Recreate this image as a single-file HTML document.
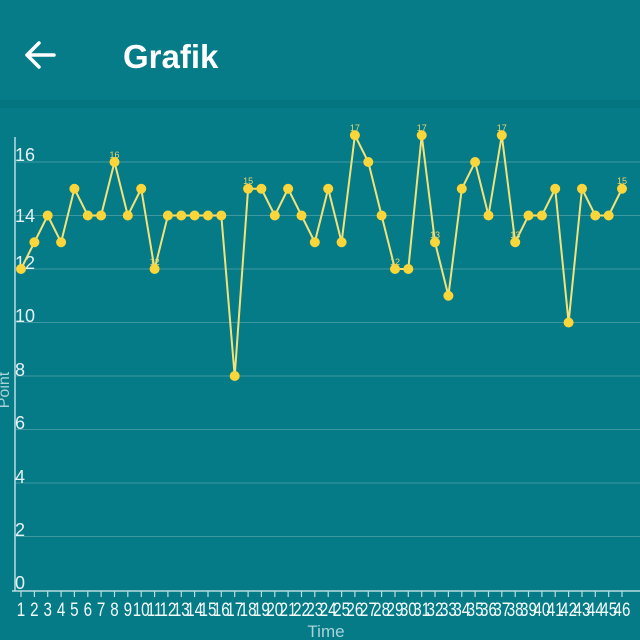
<!DOCTYPE html>
<html><head><style>
html,body{margin:0;padding:0;background:#047b87;width:640px;height:640px;overflow:hidden;font-family:"Liberation Sans",sans-serif}
</style></head><body>
<svg width="640" height="640" xmlns="http://www.w3.org/2000/svg">
<rect width="640" height="640" fill="#047b87"/>
<rect width="640" height="104" fill="#067c88"/>
<rect y="100" width="640" height="8" fill="#03717c" opacity="0.6"/>
<g stroke="#fff" stroke-width="3.5" fill="none" stroke-linecap="round" stroke-linejoin="round">
<path d="M27 55H54M27 55L39 43M27 55L39 67"/></g>
<text x="123" y="68" fill="#fff" font-size="33" font-weight="bold">Grafik</text>
<g stroke="#3e98a2" stroke-width="1">
<line x1="15" y1="162" x2="640" y2="162"/><line x1="15" y1="215.5" x2="640" y2="215.5"/>
<line x1="15" y1="269" x2="640" y2="269"/><line x1="15" y1="322.5" x2="640" y2="322.5"/>
<line x1="15" y1="376" x2="640" y2="376"/><line x1="15" y1="429.5" x2="640" y2="429.5"/>
<line x1="15" y1="483" x2="640" y2="483"/><line x1="15" y1="536.5" x2="640" y2="536.5"/>
</g>
<line x1="15" y1="137" x2="15" y2="591" stroke="#b8dde0" stroke-width="1.5"/>
<line x1="12" y1="591" x2="640" y2="591" stroke="#b8dde0" stroke-width="1.5"/>
<g stroke="#b8dde0" stroke-width="1.2">
<path d="M21 591v6M34.4 591v6M47.7 591v6M61.1 591v6M74.4 591v6M87.8 591v6M101.1 591v6M114.5 591v6M127.8 591v6M141.2 591v6M154.6 591v6M167.9 591v6M181.3 591v6M194.6 591v6M208 591v6M221.3 591v6M234.7 591v6M248.1 591v6M261.4 591v6M274.8 591v6M288.1 591v6M301.5 591v6M314.8 591v6M328.2 591v6M341.6 591v6M354.9 591v6M368.3 591v6M381.6 591v6M395 591v6M408.3 591v6M421.7 591v6M435 591v6M448.4 591v6M461.8 591v6M475.1 591v6M488.5 591v6M501.8 591v6M515.2 591v6M528.5 591v6M541.9 591v6M555.2 591v6M568.6 591v6M582 591v6M595.3 591v6M608.7 591v6M622 591v6"/>
</g>
<g fill="#e6f2f3" font-size="18">
<text x="15" y="161">16</text><text x="15" y="222">14</text><text x="15" y="269">12</text>
<text x="15" y="322">10</text><text x="15" y="376">8</text><text x="15" y="429">6</text>
<text x="15" y="483">4</text><text x="15" y="536">2</text><text x="15" y="589">0</text>
</g>
<text transform="translate(9,390) rotate(-90)" fill="#a9d3d7" font-size="16" text-anchor="middle">Point</text>
<text x="326" y="637" fill="#a9d3d7" font-size="17" text-anchor="middle">Time</text>
<g fill="#f4f9f9" font-size="19" text-anchor="middle" transform="scale(0.8,1)">
<text x="26.25" y="616">1</text><text x="43" y="616">2</text><text x="59.6" y="616">3</text><text x="76.4" y="616">4</text><text x="93" y="616">5</text><text x="109.75" y="616">6</text><text x="126.4" y="616">7</text><text x="143.1" y="616">8</text><text x="159.75" y="616">9</text><text x="176.5" y="616">10</text><text x="193.25" y="616">11</text><text x="209.9" y="616">12</text><text x="226.6" y="616">13</text><text x="243.25" y="616">14</text><text x="260" y="616">15</text><text x="276.6" y="616">16</text><text x="293.4" y="616">17</text><text x="310.1" y="616">18</text><text x="326.75" y="616">19</text><text x="343.5" y="616">20</text><text x="360.1" y="616">21</text><text x="376.9" y="616">22</text><text x="393.5" y="616">23</text><text x="410.25" y="616">24</text><text x="427" y="616">25</text><text x="443.6" y="616">26</text><text x="460.4" y="616">27</text><text x="477" y="616">28</text><text x="493.75" y="616">29</text><text x="510.4" y="616">30</text><text x="527.1" y="616">31</text><text x="543.75" y="616">32</text><text x="560.5" y="616">33</text><text x="577.25" y="616">34</text><text x="593.9" y="616">35</text><text x="610.6" y="616">36</text><text x="627.25" y="616">37</text><text x="644" y="616">38</text><text x="660.6" y="616">39</text><text x="677.4" y="616">40</text><text x="694" y="616">41</text><text x="710.75" y="616">42</text><text x="727.5" y="616">43</text><text x="744.1" y="616">44</text><text x="760.9" y="616">45</text><text x="777.5" y="616">46</text>
</g>
<polyline fill="none" stroke="#f3e27a" stroke-width="2" points="21,269 34.4,242.25 47.7,215.5 61.1,242.25 74.4,188.75 87.8,215.5 101.1,215.5 114.5,162 127.8,215.5 141.2,188.75 154.6,269 167.9,215.5 181.3,215.5 194.6,215.5 208,215.5 221.3,215.5 234.7,376 248.1,188.75 261.4,188.75 274.8,215.5 288.1,188.75 301.5,215.5 314.8,242.25 328.2,188.75 341.6,242.25 354.9,135.25 368.3,162 381.6,215.5 395,269 408.3,269 421.7,135.25 435,242.25 448.4,295.75 461.8,188.75 475.1,162 488.5,215.5 501.8,135.25 515.2,242.25 528.5,215.5 541.9,215.5 555.2,188.75 568.6,322.5 582,188.75 595.3,215.5 608.7,215.5 622,188.75"/>
<g fill="#fbd63a">
<circle cx="21" cy="269" r="5"/><circle cx="34.4" cy="242.25" r="5"/><circle cx="47.7" cy="215.5" r="5"/><circle cx="61.1" cy="242.25" r="5"/><circle cx="74.4" cy="188.75" r="5"/><circle cx="87.8" cy="215.5" r="5"/><circle cx="101.1" cy="215.5" r="5"/><circle cx="114.5" cy="162" r="5"/><circle cx="127.8" cy="215.5" r="5"/><circle cx="141.2" cy="188.75" r="5"/><circle cx="154.6" cy="269" r="5"/><circle cx="167.9" cy="215.5" r="5"/><circle cx="181.3" cy="215.5" r="5"/><circle cx="194.6" cy="215.5" r="5"/><circle cx="208" cy="215.5" r="5"/><circle cx="221.3" cy="215.5" r="5"/><circle cx="234.7" cy="376" r="5"/><circle cx="248.1" cy="188.75" r="5"/><circle cx="261.4" cy="188.75" r="5"/><circle cx="274.8" cy="215.5" r="5"/><circle cx="288.1" cy="188.75" r="5"/><circle cx="301.5" cy="215.5" r="5"/><circle cx="314.8" cy="242.25" r="5"/><circle cx="328.2" cy="188.75" r="5"/><circle cx="341.6" cy="242.25" r="5"/><circle cx="354.9" cy="135.25" r="5"/><circle cx="368.3" cy="162" r="5"/><circle cx="381.6" cy="215.5" r="5"/><circle cx="395" cy="269" r="5"/><circle cx="408.3" cy="269" r="5"/><circle cx="421.7" cy="135.25" r="5"/><circle cx="435" cy="242.25" r="5"/><circle cx="448.4" cy="295.75" r="5"/><circle cx="461.8" cy="188.75" r="5"/><circle cx="475.1" cy="162" r="5"/><circle cx="488.5" cy="215.5" r="5"/><circle cx="501.8" cy="135.25" r="5"/><circle cx="515.2" cy="242.25" r="5"/><circle cx="528.5" cy="215.5" r="5"/><circle cx="541.9" cy="215.5" r="5"/><circle cx="555.2" cy="188.75" r="5"/><circle cx="568.6" cy="322.5" r="5"/><circle cx="582" cy="188.75" r="5"/><circle cx="595.3" cy="215.5" r="5"/><circle cx="608.7" cy="215.5" r="5"/><circle cx="622" cy="188.75" r="5"/>
</g>
<g fill="#e8d66a" font-size="9" text-anchor="middle">
<text x="114.5" y="158">16</text><text x="154.6" y="265">12</text><text x="248.1" y="184">15</text>
<text x="354.9" y="131">17</text><text x="395" y="265">12</text><text x="421.7" y="131">17</text>
<text x="435" y="238">13</text><text x="501.8" y="131">17</text><text x="515.2" y="238">13</text><text x="622" y="184">15</text>
</g>
</svg>
</body></html>
